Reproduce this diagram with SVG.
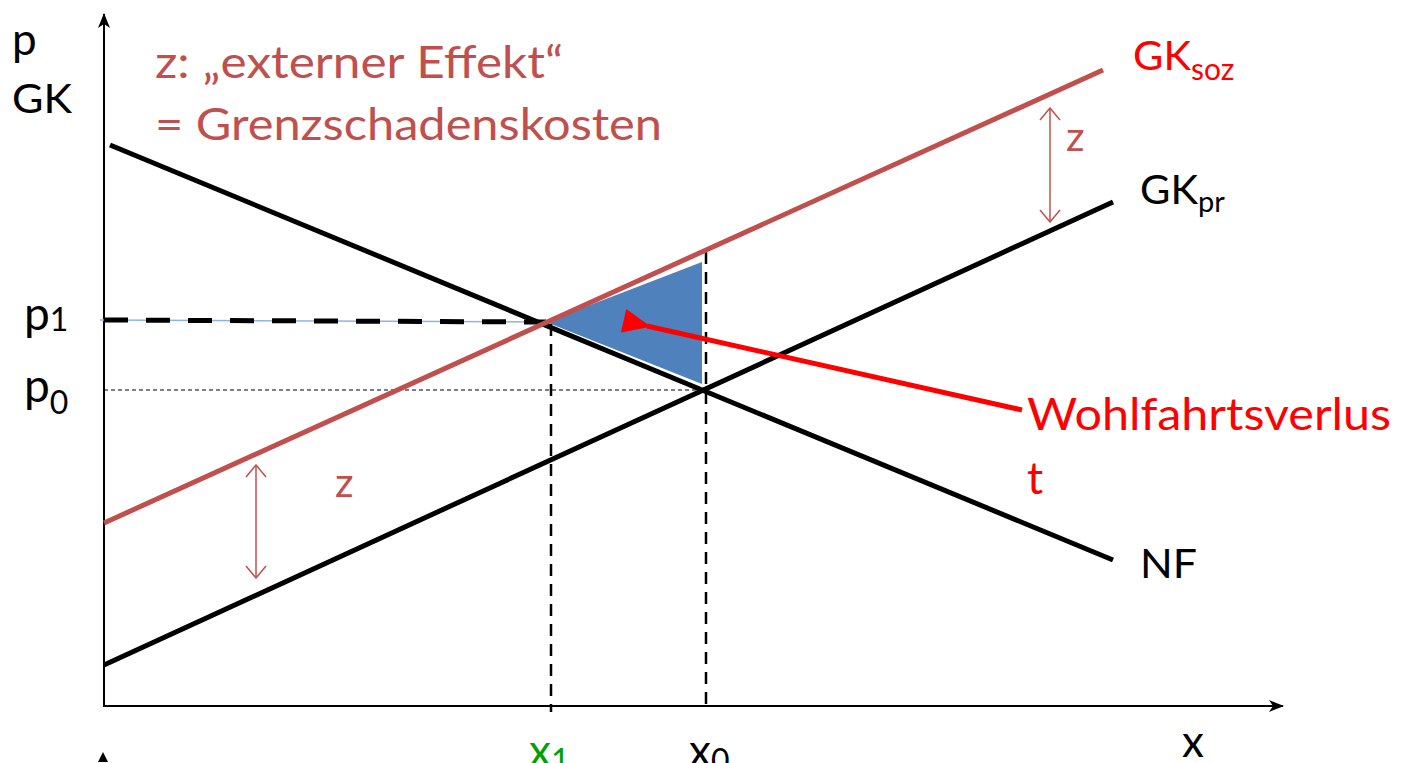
<svg xmlns="http://www.w3.org/2000/svg" width="1403" height="763" viewBox="0 0 1403 763">
<style>
text{font-family:Lato,"Open Sans","Liberation Sans",sans-serif}
.blk{fill:#000}
.rd{fill:#C0504D}
.red{fill:#FF0000}
.ax{stroke:#000;stroke-width:2;fill:none}
.thick{stroke-width:5;fill:none;stroke-linecap:butt}
.zarr{stroke:#C0504D;stroke-width:1.5;fill:none}
</style>
<defs>
<marker id="axh" markerWidth="16" markerHeight="12" refX="14" refY="6" orient="auto" markerUnits="userSpaceOnUse">
<path d="M0,0 L15,6 L0,12 L4,6 Z" fill="#000"/>
</marker>
<marker id="zh" markerWidth="14" markerHeight="22" refX="13" refY="11" orient="auto-start-reverse" markerUnits="userSpaceOnUse">
<path d="M1,1 L13,11 L1,21" fill="none" stroke="#C0504D" stroke-width="1.5"/>
</marker>
<marker id="rh" markerWidth="30" markerHeight="26" refX="4" refY="13" orient="auto" markerUnits="userSpaceOnUse">
<path d="M28,1 L0,13 L28,25 Z" fill="#FF0000"/>
</marker>
</defs>

<g id="area">
<polygon points="546,322 702,262 702,384" fill="#4F81BD"/>
</g>

<g id="axes">
<line class="ax" x1="104" y1="707" x2="104" y2="14" marker-end="url(#axh)"/>
<line class="ax" x1="103" y1="706" x2="1283" y2="706" marker-end="url(#axh)"/>
<path d="M98,762 L103,752 L108,762 Z" fill="#000"/>
</g>

<g id="guides">
<line x1="100" y1="320" x2="546" y2="322" stroke="#8EB4E3" stroke-width="1.5"/>
<line x1="104" y1="320" x2="546" y2="322" stroke="#000" stroke-width="5" stroke-dasharray="24 18"/>
<line x1="104" y1="390" x2="706" y2="390" stroke="#000" stroke-width="1.2" stroke-dasharray="4 3"/>
<line x1="551" y1="324" x2="551" y2="712" stroke="#000" stroke-width="2.5" stroke-dasharray="12 8"/>
<line x1="706" y1="252" x2="706" y2="712" stroke="#000" stroke-width="2.5" stroke-dasharray="12 8"/>
</g>

<g id="curves">
<line id="NF" class="thick" x1="110" y1="145" x2="1113" y2="560" stroke="#000"/>
<line id="GKpr" class="thick" x1="104" y1="665" x2="1113" y2="202" stroke="#000"/>
<line id="GKsoz" class="thick" x1="104" y1="523" x2="1103" y2="70" stroke="#C0504D"/>
</g>

<g id="connectors">
<line class="zarr" x1="1050" y1="108" x2="1050" y2="222" marker-start="url(#zh)" marker-end="url(#zh)"/>
<line class="zarr" x1="256" y1="465" x2="256" y2="578" marker-start="url(#zh)" marker-end="url(#zh)"/>
<line x1="1022" y1="410" x2="647" y2="326" stroke="#FF0000" stroke-width="5" marker-end="url(#rh)"/>
</g>

<g id="labels">
<text x="12" y="55" font-size="44" class="blk">p</text>
<text x="12" y="113" font-size="41" class="blk" textLength="60" lengthAdjust="spacingAndGlyphs">GK</text>
<text x="155" y="78" font-size="45" class="rd" textLength="408" lengthAdjust="spacingAndGlyphs">z: „externer Effekt“</text>
<text x="155" y="140" font-size="45" class="rd" textLength="507" lengthAdjust="spacingAndGlyphs">= Grenzschadenskosten</text>
<text x="24" y="330" font-size="46" class="blk">p<tspan font-size="32" dy="1">1</tspan></text>
<text x="24" y="402" font-size="46" class="blk">p<tspan font-size="32" dy="12">0</tspan></text>
<text x="1133" y="70" font-size="41" class="red" textLength="58" lengthAdjust="spacingAndGlyphs">GK</text>
<text x="1191" y="80" font-size="30" class="red">soz</text>
<text x="1140" y="204" font-size="41" class="blk" textLength="58" lengthAdjust="spacingAndGlyphs">GK</text>
<text x="1198" y="212" font-size="29" class="blk">pr</text>
<text x="1066" y="151" font-size="41" class="rd">z</text>
<text x="335" y="497" font-size="41" class="rd">z</text>
<text x="1027" y="430" font-size="45" class="red" textLength="364" lengthAdjust="spacingAndGlyphs">Wohlfahrtsverlus</text>
<text x="1027" y="494" font-size="45" class="red">t</text>
<text x="1140" y="578" font-size="41" class="blk" textLength="57" lengthAdjust="spacingAndGlyphs">NF</text>
<text x="529" y="766" font-size="44" fill="#00A000">x<tspan font-size="32" dy="6">1</tspan></text>
<text x="689" y="766" font-size="44" class="blk">x<tspan font-size="32" dy="6">0</tspan></text>
<text x="1182" y="757" font-size="44" class="blk">x</text>
</g>
</svg>
